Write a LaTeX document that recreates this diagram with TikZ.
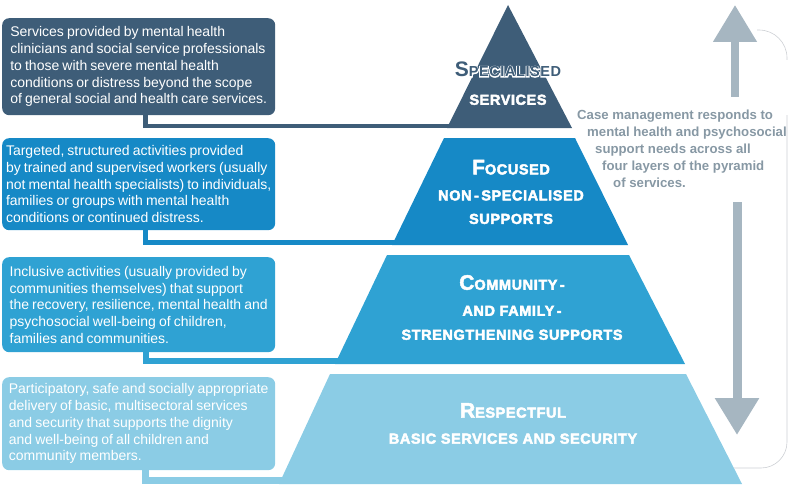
\documentclass[tikz,border=0pt]{standalone}
\usepackage{fontspec}
\setmainfont{Liberation Sans}
\newfontfamily\boxfont[WordSpace=0.8]{Liberation Sans}
\newfontfamily\titlefont[LetterSpace=4]{Liberation Sans}
\usetikzlibrary{arrows.meta}

\definecolor{specblue}{RGB}{62,93,120}
\definecolor{focusblue}{RGB}{22,137,198}
\definecolor{commblue}{RGB}{47,162,211}
\definecolor{basicblue}{RGB}{139,204,229}
\definecolor{arrowgrey}{RGB}{166,182,193}
\definecolor{notegrey}{RGB}{135,152,164}
\definecolor{framegrey}{RGB}{205,208,212}

\newcommand{\capfirst}[2]{{\fontsize{21}{21}\selectfont #1}#2}
\newcommand{\outlined}[1]{\rlap{\special{pdf:literal direct 1 1 1 RG 1.8 w 1 Tr}#1}\special{pdf:literal direct 0 Tr}#1\special{pdf:literal direct 0.45 w 2 Tr}}

\begin{document}
\begin{tikzpicture}[x=1pt,y=-1pt]
	\useasboundingbox (0,0) rectangle (791,484);
	\tikzstyle{infobox}=[anchor=north west, rounded corners=7pt, text=white, align=left, minimum width=273pt, inner xsep=0pt, inner ysep=0pt, font=\boxfont\fontsize{14}{16.7}\selectfont]
	\tikzstyle{title}=[text=white, align=center, inner sep=0pt, font=\titlefont\bfseries\fontsize{14.5}{24}\selectfont, execute at begin node={\special{pdf:literal direct 1 1 1 RG 0.45 w 2 Tr}}, execute at end node={\special{pdf:literal direct 0 Tr}}]
	\tikzstyle{band}=[line width=5pt]
	\tikzstyle{bigarrow}=[arrowgrey, -{Triangle[length=37pt,width=42pt]}]
	% frame of the case management note
	\draw[framegrey, line width=0.6pt, rounded corners=28pt] (757,30) -- (787,30) -- (787,60);
	\draw[framegrey, line width=0.6pt, rounded corners=26pt] (787,115) -- (787,468) -- (700,468);
	% pyramid corners
	\coordinate (l1top) at (508,5);
	\coordinate (l1bl) at (447,128);
	\coordinate (l1br) at (572,128);
	\coordinate (l2tl) at (444,138);
	\coordinate (l2tr) at (575,138);
	\coordinate (l2br) at (628,245);
	\coordinate (l2bl) at (392,245);
	\coordinate (l3tl) at (387,255);
	\coordinate (l3tr) at (629,255);
	\coordinate (l3br) at (685,364);
	\coordinate (l3bl) at (335,364);
	\coordinate (l4tl) at (330,374);
	\coordinate (l4tr) at (686,374);
	\coordinate (l4br) at (742,484);
	\coordinate (l4bl) at (279,484);
	\node[infobox, fill=specblue, minimum height=97pt] (specbox) at (2,18) {Services provided by mental health\\clinicians and social service professionals\\to those with severe mental health\\conditions or distress beyond the scope\\of general social and health care services.};
	\node[infobox, fill=focusblue, minimum height=92pt] (focusbox) at (2,138) {Targeted, structured activities provided\\by trained and supervised workers (usually\\not mental health specialists) to individuals,\\families or groups with mental health\\conditions or continued distress.};
	\node[infobox, fill=commblue, minimum height=95pt] (commbox) at (2,257) {Inclusive activities (usually provided by\\communities themselves) that support\\the recovery, resilience, mental health and\\psychosocial well-being of children,\\families and communities.};
	\node[infobox, fill=basicblue, minimum height=93pt] (basicbox) at (2,377) {Participatory, safe and socially appropriate\\delivery of basic, multisectoral services\\and security that supports the dignity\\and well-being of all children and\\community members.};
	\draw[band, specblue, line width=4.5pt] ([xshift=143.5pt]specbox.south west) |- ([xshift=4pt,yshift=2.25pt]l1bl);
	\draw[band, focusblue, line width=5.5pt] ([xshift=143.5pt]focusbox.south west) |- ([xshift=4pt,yshift=2.75pt]l2bl);
	\draw[band, commblue, line width=6pt] ([xshift=143.5pt]commbox.south west) |- ([xshift=4pt,yshift=3pt]l3bl);
	\draw[band, basicblue, line width=7pt] ([xshift=143.5pt]basicbox.south west) |- ([xshift=4pt,yshift=3.5pt]l4bl);
	\fill[specblue] (l1top) -- (l1br) -- (l1bl) -- cycle;
	\fill[focusblue] (l2tl) -- (l2tr) -- (l2br) -- (l2bl) -- cycle;
	\fill[commblue] (l3tl) -- (l3tr) -- (l3br) -- (l3bl) -- cycle;
	\fill[basicblue] (l4tl) -- (l4tr) -- (l4br) -- (l4bl) -- cycle;
	\node[title] (spectitle) at (508,83.5) {{\color{specblue}\outlined{\capfirst{S}{PECIALISED}}}\\[4pt]SERVICES};
	\node[title, font=\titlefont\bfseries\fontsize{14.5}{23.5}\selectfont] (focustitle) at (511,192) {\capfirst{F}{OCUSED}\\[2.5pt]NON\,-\,SPECIALISED\\SUPPORTS};
	\node[title] (commtitle) at (512,307.5) {\capfirst{C}{OMMUNITY\,-}\\[2pt]AND FAMILY\,-\\STRENGTHENING SUPPORTS};
	\node[title] (basictitle) at (513,423.5) {\capfirst{R}{ESPECTFUL}\\[2pt]BASIC SERVICES AND SECURITY};
	% case management
	\coordinate (upfoot) at (735,97);
	\coordinate (uptip) at (735,5);
	\coordinate (downfoot) at (737,202);
	\coordinate (downtip) at (737,435);
	\draw[bigarrow, line width=8pt] (upfoot) -- (uptip);
	\draw[bigarrow, line width=9pt] (downfoot) -- (downtip);
	\node[anchor=north west, inner sep=0pt, align=left, text=notegrey, font=\bfseries\fontsize{13.2}{17}\selectfont] (casenote) at (577,109.5) {Case management responds to\\\hspace*{10pt}mental health and psychosocial\\\hspace*{18pt}support needs across all\\\hspace*{25pt}four layers of the pyramid\\\hspace*{36pt}of services.};
\end{tikzpicture}
\end{document}
